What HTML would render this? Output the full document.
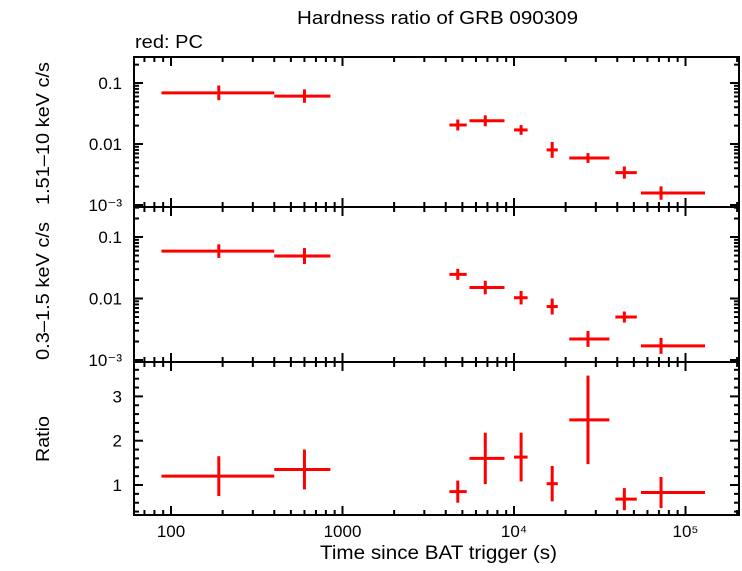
<!DOCTYPE html>
<html><head><meta charset="utf-8"><style>
body{margin:0;background:#fff;}
svg text{font-family:"Liberation Sans",sans-serif;}
</style></head><body>
<svg id="chart" width="742" height="566" xmlns="http://www.w3.org/2000/svg">
<text x="297" y="24" font-size="18" textLength="281" lengthAdjust="spacingAndGlyphs">Hardness ratio of GRB 090309</text>
<text x="135" y="48" font-size="18" textLength="68" lengthAdjust="spacingAndGlyphs">red: PC</text>
<text x="320" y="559" font-size="19" textLength="237" lengthAdjust="spacingAndGlyphs">Time since BAT trigger (s)</text>
<text transform="translate(49,205) rotate(-90)" font-size="18" textLength="143" lengthAdjust="spacingAndGlyphs">1.51–10 keV c/s</text>
<text transform="translate(49,360) rotate(-90)" font-size="18" textLength="138" lengthAdjust="spacingAndGlyphs">0.3–1.5 keV c/s</text>
<text transform="translate(49,462) rotate(-90)" font-size="18" textLength="46" lengthAdjust="spacingAndGlyphs">Ratio</text>
<g id="g"></g>
</svg>
<script>
const times=[190,600,4700,6800,11000,16700,27000,44000,72000];
const tLo=[88,400,4200,5500,10000,15500,21000,39000,55000];
const tHi=[400,850,5300,8800,12000,18000,36000,52000,130000];
const hard=[0.069,0.061,0.0205,0.024,0.017,0.008,0.0059,0.0034,0.00157];
const hardErrDex=[0.12,0.11,0.09,0.09,0.08,0.13,0.08,0.1,0.11];
const soft=[0.059,0.049,0.0247,0.0151,0.0103,0.0074,0.0022,0.005,0.0017];
const softErrDex=[0.11,0.13,0.09,0.11,0.11,0.13,0.13,0.09,0.13];
const ratio=[1.2,1.35,0.85,1.6,1.63,1.03,2.47,0.68,0.83];
const ratioErr=[0.45,0.45,0.25,0.58,0.55,0.4,1.0,0.25,0.35];
const xTickLabels=["100","1000","10⁴","10⁵"];
const logTickLabels=["0.1","0.01","10⁻³"];
const ratioTicks=[1,2,3];

const L=134,R=739;
const xs=v=>171+(Math.log10(v)-2)*171.5;
const panels=[{top:57,bot:207},{top:207,bot:362},{top:362,bot:515}];
const y1=v=>83+(-1-Math.log10(v))*61;
const y2=v=>237+(-1-Math.log10(v))*61.5;
const y3=v=>485-(v-1)*44.3;
const g=document.getElementById('g');
const NS='http://www.w3.org/2000/svg';
function line(x1,ya,x2,yb,c,w,name){const e=document.createElementNS(NS,'line');e.setAttribute('x1',x1);e.setAttribute('y1',ya);e.setAttribute('x2',x2);e.setAttribute('y2',yb);e.setAttribute('stroke',c);e.setAttribute('stroke-width',w);


g.appendChild(e);return e;}
function text(x,y,s,anchor,name){const e=document.createElementNS(NS,'text');e.setAttribute('x',x);e.setAttribute('y',y);e.setAttribute('font-size','17');e.setAttribute('text-anchor',anchor);e.textContent=s;


g.appendChild(e);}
panels.forEach((p,i)=>{const r=document.createElementNS(NS,'rect');r.setAttribute('x',L);r.setAttribute('y',p.top);r.setAttribute('width',R-L);r.setAttribute('height',p.bot-p.top);r.setAttribute('fill','none');r.setAttribute('stroke','#000');r.setAttribute('stroke-width','2');


g.appendChild(r);
 for(let d=1;d<=5;d++){for(let m=1;m<10;m++){const v=m*Math.pow(10,d);const x=xs(v);if(x<L||x>R)continue;const len=m==1?9:5;
  line(x,p.top,x,p.top+len,'#000',2,'x-tick');line(x,p.bot,x,p.bot-len,'#000',2,'x-tick');}}
});
[[y1,panels[0]],[y2,panels[1]]].forEach(([f,p])=>{for(let d=-4;d<=0;d++){for(let m=1;m<10;m++){const v=m*Math.pow(10,d);const y=f(v);if(y<p.top||y>p.bot)continue;const len=m==1?9:5;
 line(L,y,L+len,y,'#000',2,'y-tick');line(R,y,R-len,y,'#000',2,'y-tick');}}
 logTickLabels.forEach((s,i)=>text(L-12,f(Math.pow(10,-1-i))+6,s,'end','y-tick-label'));});
for(let v=0.4;v<3.8;v+=0.2){const y=y3(v);const maj=Math.abs(v-Math.round(v))<0.01;const len=maj?9:5;line(L,y,L+len,y,'#000',2,'y-tick');line(R,y,R-len,y,'#000',2,'y-tick');}
ratioTicks.forEach(v=>text(L-12,y3(v)+6,String(v),'end','y-tick-label'));
[100,1000,1e4,1e5].forEach((v,i)=>text(xs(v),537,xTickLabels[i],'middle','x-tick-label'));
function pts(vals,f,errFn,name){vals.forEach((v,i)=>{const x=xs(times[i]),y=f(v);
 line(xs(tLo[i]),y,xs(tHi[i]),y,'#f00',3,name+'-xerr');
 const [a,b]=errFn(i);line(x,f(a),x,f(b),'#f00',3,name+'-yerr');});}
pts(hard,y1,i=>[hard[i]*Math.pow(10,hardErrDex[i]),hard[i]/Math.pow(10,hardErrDex[i])],'hard-point');
pts(soft,y2,i=>[soft[i]*Math.pow(10,softErrDex[i]),soft[i]/Math.pow(10,softErrDex[i])],'soft-point');
pts(ratio,y3,i=>[ratio[i]+ratioErr[i],ratio[i]-ratioErr[i]],'ratio-point');
</script>
</body></html>
